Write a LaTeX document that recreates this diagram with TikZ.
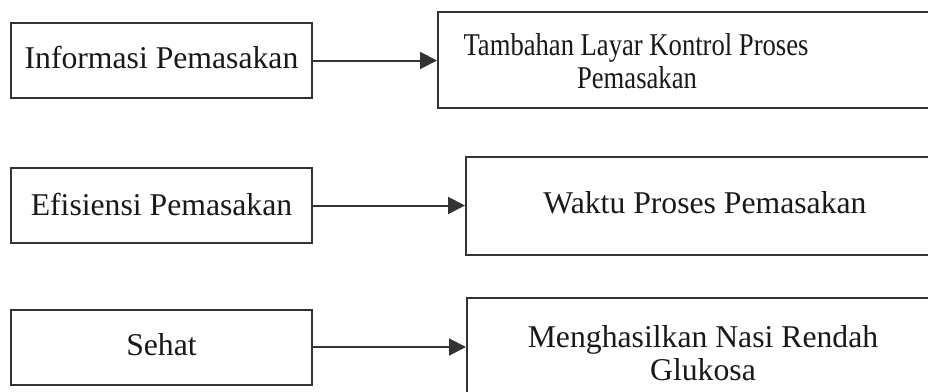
\documentclass[tikz,border=0pt]{standalone}
\usepackage{fontspec}
\usepackage{graphicx}
\setmainfont{Liberation Serif}
\usetikzlibrary{arrows.meta}
\definecolor{edge}{HTML}{333333}
\newcommand{\narrow}[1]{\scalebox{0.84}[1]{#1}}
\tikzset{
  leftbox/.style={draw=edge, line width=2pt, minimum width=301pt, minimum height=75pt, inner sep=0pt},
  rightbox/.style={draw=edge, line width=2pt, minimum height=97pt, inner sep=0pt},
  lbl/.style={font=\fontsize{31.7}{34}\selectfont, anchor=base, inner sep=0pt, text=black!90},
  flow/.style={draw=edge, line width=2pt, -{Triangle[length=17pt,width=17pt]}},
}
\begin{document}
\begin{tikzpicture}[x=1pt,y=-1pt]
  \useasboundingbox (0,0) rectangle (928,391);
  \clip (0,0) rectangle (928,391);
  \fill[white] (0,0) rectangle (928,391);

  % left column
  \node[leftbox] (l1) at (161.5,60.5) {};
  \node[leftbox] (l2) at (161.5,205.5) {};
  \node[leftbox] (l3) at (161.5,347) {};
  \node[lbl] (tl1) at (161.5,68) {Informasi Pemasakan};
  \node[lbl] (tl2) at (161.5,215) {Efisiensi Pemasakan};
  \node[lbl] (tl3) at (161.5,355) {Sehat};

  % right column (boxes run past the right edge)
  \node[rightbox, minimum width=562pt, minimum height=96pt] (r1) at (719,60) {};
  \node[rightbox, minimum width=534pt, minimum height=98pt] (r2) at (733,206) {};
  \node[rightbox, minimum width=533pt, minimum height=98pt] (r3) at (733.5,347) {};
  \node[lbl] (tr1a) at (636,55) {\narrow{Tambahan Layar Kontrol Proses}};
  \node[lbl] (tr1b) at (637,88) {\narrow{Pemasakan}};
  \node[lbl] (tr2) at (705,213) {Waktu Proses Pemasakan};
  \node[lbl] (tr3a) at (703,347) {Menghasilkan Nasi Rendah};
  \node[lbl] (tr3b) at (703,380) {Glukosa};

  % connectors
  \draw[flow] (l1.east) -- (l1.east -| r1.west);
  \draw[flow] (l2.east) -- (l2.east -| r2.west);
  \draw[flow] (l3.east) -- (l3.east -| r3.west);
\end{tikzpicture}
\end{document}
